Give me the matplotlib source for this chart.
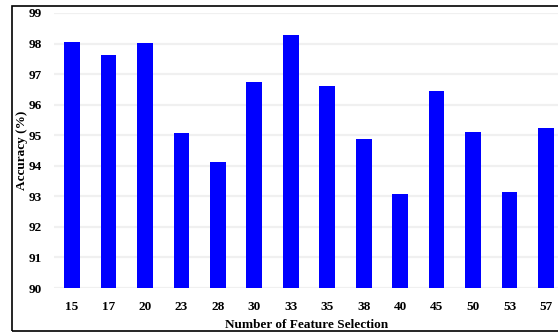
import numpy as np
import matplotlib.pyplot as plt
from matplotlib.patches import Rectangle

# data
n_features = ["15", "17", "20", "23", "28", "30", "33", "35", "38", "40", "45", "50", "53", "57"]
accuracy = [98.05, 97.62, 98.01, 95.08, 94.13, 96.74, 98.29, 96.62, 94.89, 93.09, 96.46, 95.11, 93.15, 95.24]
y_ticks = [90, 91, 92, 93, 94, 95, 96, 97, 98, 99]

plt.rcParams['font.family'] = ['Liberation Serif', 'DejaVu Serif']
plt.rcParams['font.weight'] = 'bold'

fig = plt.figure(figsize=(5.58, 3.33), dpi=100)
ax = fig.add_axes([0.097, 0.135, 0.903, 0.826])

x = np.arange(len(n_features))
ax.bar(x, accuracy, width=0.43, color='#0000ff', zorder=3)

ax.set_ylim(90, 99)
ax.set_xlim(-0.49, 13.33)
ax.set_yticks(y_ticks)
ax.set_xticks(x)
ax.set_xticklabels(n_features)
ax.yaxis.grid(True, color='#f0f0f0', linewidth=1.6, zorder=0)
ax.tick_params(axis='both', length=0, labelsize=9.5)
ax.tick_params(axis='x', pad=9)
ax.tick_params(axis='y', pad=9)
for s in ax.spines.values():
    s.set_visible(False)

ax.set_xlabel("Number of Feature Selection", fontsize=9.5, fontweight='bold', labelpad=5)
ax.set_ylabel("Accuracy (%)", fontsize=9.5, fontweight='bold', labelpad=0.5)

# outer black frame (right side runs past the image edge)
fig.patches.append(Rectangle((12 / 558, 2.5 / 333), 1.0, (333 - 6 - 2.5) / 333,
                             transform=fig.transFigure, fill=False,
                             edgecolor='black', linewidth=1.2, clip_on=False))

fig.savefig("out.png", dpi=100)
